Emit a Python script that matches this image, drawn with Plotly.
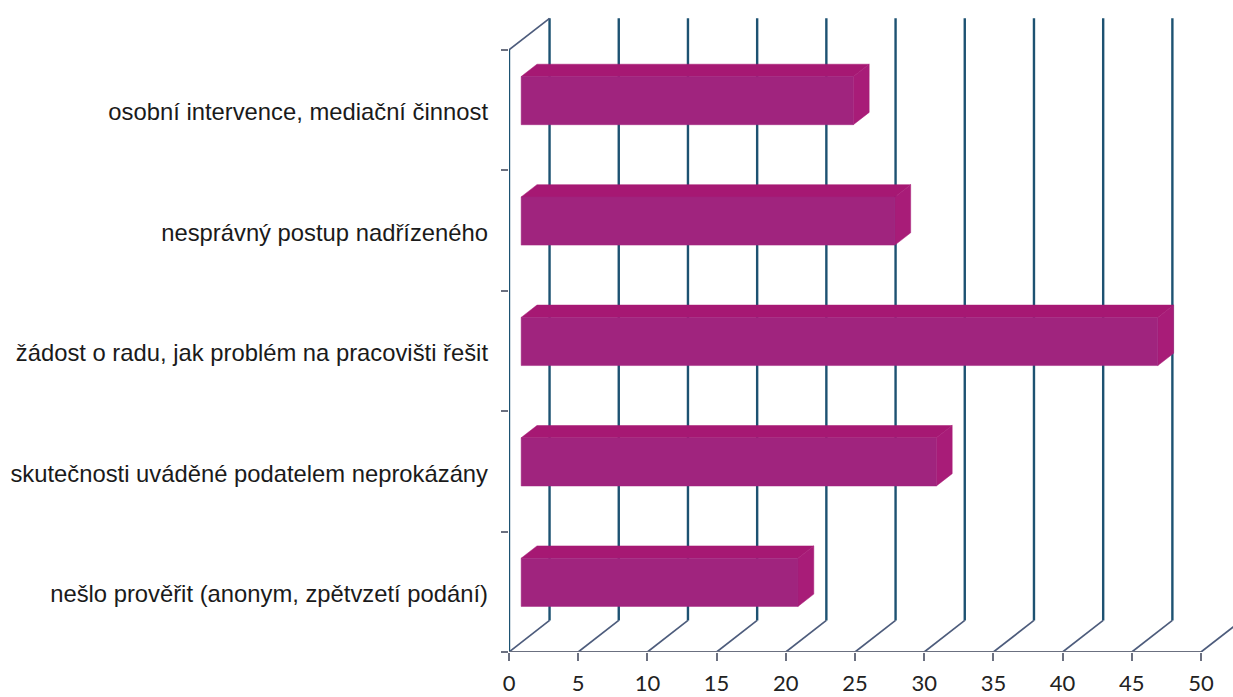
import plotly.graph_objects as go

# Categories from bottom to top, as the axis counts them
categories = [
    'nešlo prověřit (anonym, zpětvzetí podání)',
    'skutečnosti uváděné podatelem neprokázány',
    'žádost o radu, jak problém na pracovišti řešit',
    'nesprávný postup nadřízeného',
    'osobní intervence, mediační činnost',
]
values = [20, 30, 46, 27, 24]
x_ticks = [0, 5, 10, 15, 20, 25, 30, 35, 40, 45, 50]

# Oblique projection of the depth axis, in axis units per unit of depth
DX = 2.93
DY = 0.262
BAR_Z0 = 0.30
BAR_Z1 = 0.69
BAR_H = 0.40

FRONT = '#a0247e'
TOP = '#a61873'
SIDE = '#a81c78'
GRID = '#1d5272'
FLOOR = '#4d5c7c'

n = len(categories)
fig = go.Figure()


def add_line(xs, ys, color, width):
    fig.add_trace(go.Scatter(x=xs, y=ys, mode='lines', line=dict(color=color, width=width),
                             hoverinfo='skip', showlegend=False))


def add_face(xs, ys, color):
    fig.add_trace(go.Scatter(x=xs, y=ys, mode='lines', fill='toself', fillcolor=color,
                             line=dict(color=color, width=0.5), hoverinfo='skip', showlegend=False))


# Back wall verticals and floor diagonals
for t in x_ticks:
    add_line([t + DX, t + DX], [DY, n + DY], GRID, 2.4)
    add_line([t, t + DX], [0, DY], FLOOR, 1.7)

# Left wall and front axes
add_line([0, DX], [n, n + DY], FLOOR, 1.7)
add_line([0, 0], [0, n], GRID, 2.4)
add_line([0, x_ticks[-1]], [0, 0], '#6b7080', 2)

# Bars as three faces each
for i, v in enumerate(values):
    lo = i + 0.5 - BAR_H / 2
    hi = i + 0.5 + BAR_H / 2
    x0, x1 = BAR_Z0 * DX, BAR_Z1 * DX
    y0, y1 = BAR_Z0 * DY, BAR_Z1 * DY
    add_face([x0, x0 + v, x1 + v, x1, x0], [hi + y0, hi + y0, hi + y1, hi + y1, hi + y0], TOP)
    add_face([x0 + v, x1 + v, x1 + v, x0 + v, x0 + v], [lo + y0, lo + y1, hi + y1, hi + y0, lo + y0], SIDE)
    add_face([x0, x0 + v, x0 + v, x0, x0], [lo + y0, lo + y0, hi + y0, hi + y0, lo + y0], FRONT)

fig.update_layout(
    width=1233,
    height=697,
    margin=dict(l=509, r=0, t=0, b=45),
    paper_bgcolor='white',
    plot_bgcolor='white',
    showlegend=False,
    xaxis=dict(
        range=[0, 52.31],
        automargin=False,
        tickmode='array',
        tickvals=x_ticks,
        ticks='outside',
        ticklen=8,
        tickwidth=1.5,
        tickcolor='#6b7080',
        showgrid=False,
        zeroline=False,
        showline=False,
        ticklabelstandoff=4,
        tickfont=dict(family='Lato', size=22, color='#222222'),
    ),
    yaxis=dict(
        range=[0, 5.414],
        automargin=False,
        tickmode='array',
        tickvals=[i + 0.485 for i in range(n)],
        ticktext=categories,
        ticks='',
        showgrid=False,
        zeroline=False,
        showline=False,
        ticklabelstandoff=20,
        tickfont=dict(family='Liberation Sans', size=23.8, color='#1a1a1a'),
        minor=dict(
            tickmode='array',
            tickvals=list(range(n + 1)),
            ticks='outside',
            ticklen=7,
            tickwidth=1.5,
            tickcolor='#6b7080',
            showgrid=False,
        ),
    ),
)

fig.write_html("out.html", config=dict(displayModeBar=False),
               post_script="document.body.style.margin='0';")
